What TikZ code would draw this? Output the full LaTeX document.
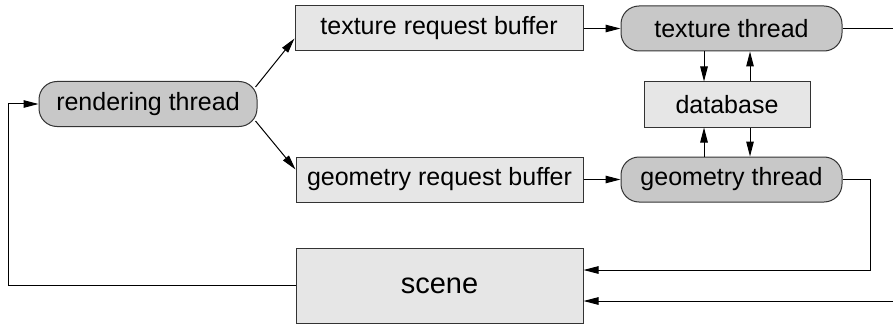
\documentclass[tikz,border=0pt]{standalone}
\usepackage{fontspec}
\setmainfont{Liberation Sans}
\usetikzlibrary{arrows.meta,calc}
\definecolor{darkfill}{HTML}{C8C8C8}
\definecolor{lightfill}{HTML}{E6E6E6}
\definecolor{edge}{HTML}{333333}
\begin{document}
\begin{tikzpicture}[x=1pt,y=-1pt,
  thread/.style={draw=edge,line width=1pt,fill=darkfill,rounded corners=18pt,minimum height=45pt,inner sep=0pt,font=\fontsize{25}{30}\selectfont},
  buf/.style={draw=edge,line width=1pt,fill=lightfill,minimum height=45pt,inner sep=0pt,font=\fontsize{25}{30}\selectfont},
  arr/.style={line width=1pt,-{Triangle[length=15pt,width=7.5pt]}},
  ln/.style={line width=1pt}]
\useasboundingbox (0,0) rectangle (893,326);
\node[thread,minimum width=218pt] (rt) at (148,104) {rendering thread};
\node[buf,minimum width=288pt] (trb) at (439,28.5) {texture request buffer};
\node[thread,minimum width=221pt] (tt) at (731.5,28.5) {texture thread};
\node[buf,minimum width=166pt] (db) at (727,104.5) {database};
\node[buf,minimum width=287pt] (grb) at (439.5,179.5) {geometry request buffer};
\node[thread,minimum width=221pt] (gt) at (731.5,179.5) {geometry thread};
\node[buf,minimum width=287pt,minimum height=75pt,font=\fontsize{29}{34}\selectfont] (scene) at (439.5,285.5) {scene};
\coordinate (c1) at (704,0);
\coordinate (c2) at (750,0);
\coordinate (c3) at (870,270);
\coordinate (c4) at (8,0);
\coordinate (e1) at (893,28.5);
\coordinate (e2) at (893,301);
\draw[arr] ($(rt.east)+(-2,-17)$) -- ($(trb.west)+(0,10)$);
\draw[arr] ($(rt.east)+(-2,17)$) -- ($(grb.west)+(0,-10)$);
\draw[arr] (trb.east) -- (tt.west);
\draw[arr] (grb.east) -- (gt.west);
\draw[arr] (tt.south -| c1) -- (db.north -| c1);
\draw[arr] (db.north -| c2) -- (tt.south -| c2);
\draw[arr] (gt.north -| c1) -- (db.south -| c1);
\draw[arr] (db.south -| c2) -- (gt.north -| c2);
\draw[ln] (tt.east) -- (e1);
\draw[arr] (gt.east) -| (c3) -- (scene.east |- c3);
\draw[arr] (e2) -- (scene.east |- e2);
\draw[arr] (scene.west) -- (scene.west -| c4) |- (rt.west);
\end{tikzpicture}
\end{document}
